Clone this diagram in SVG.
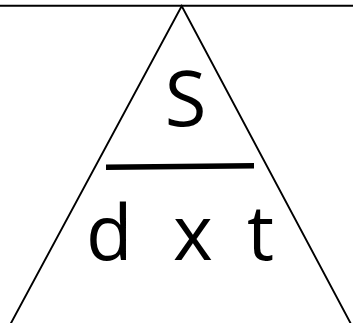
<svg xmlns="http://www.w3.org/2000/svg" width="353" height="323" viewBox="0 0 353 323">
<style>
.ln{stroke:#000;stroke-width:1.9;fill:none}
.lbl{font-family:"Open Sans","Noto Sans",sans-serif;font-size:76px;fill:#000}
</style>
<rect width="353" height="323" fill="#fff"/>
<g id="frame">
<line class="ln" x1="0" y1="5.7" x2="353" y2="5.7"/>
<polyline class="ln" points="10.5,324 181.7,6 351,324"/>
</g>
<g id="numerator">
<text class="lbl" x="185.5" y="126" text-anchor="middle">S</text>
</g>
<g id="divider">
<line x1="106" y1="167.3" x2="254" y2="165.7" stroke="#000" stroke-width="5.5"/>
</g>
<g id="denominator">
<text class="lbl" x="86 133 173 213 247" y="260">d x t</text>
</g>
</svg>
